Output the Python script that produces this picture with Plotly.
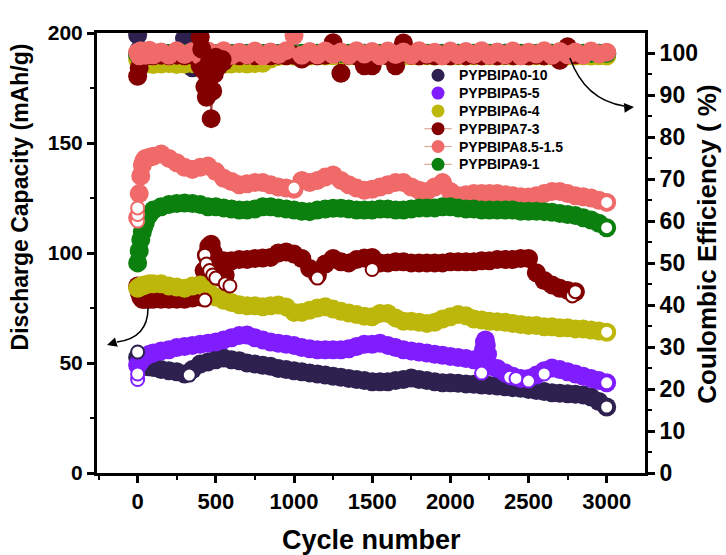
import plotly.graph_objects as go

# Cycle index shared by every series
CYCLES = [0, 10, 20, 30, 40, 50, 75, 100, 150, 200,
          250, 300, 350, 400, 450, 500, 550, 600, 650, 700,
          750, 800, 850, 900, 950, 1000, 1050, 1100, 1150, 1200,
          1250, 1300, 1350, 1400, 1450, 1500, 1550, 1600, 1650, 1700,
          1750, 1800, 1850, 1900, 1950, 2000, 2050, 2100, 2150, 2200,
          2250, 2300, 2350, 2400, 2450, 2500, 2550, 2600, 2650, 2700,
          2750, 2800, 2850, 2900, 2950, 3000]

NAMES = ["PYPBIPA0-10", "PYPBIPA5-5", "PYPBIPA6-4",
         "PYPBIPA7-3", "PYPBIPA8.5-1.5", "PYPBIPA9-1"]
COLORS = ["#2e2150", "#7f1dff", "#bdb70c", "#820000", "#ef6a69", "#0c800f"]

# Discharge capacity (mAh/g)
CAP_0_10 = [52.5, 51, 50, 49.5, 49, 48.5, 48.3, 48, 47, 46.5,
            46, 45, 47, 49.5, 50.5, 51.5, 52.3, 51.5, 51, 50,
            49.5, 49, 48.5, 47.5, 47, 46.5, 46, 45.5, 45, 44.5,
            44, 43.5, 43, 42.5, 42, 41.5, 41.5, 41.5, 42, 42.5,
            43.2, 42.5, 42, 41.5, 41, 41, 40.8, 40.5, 40.3, 40,
            39.8, 39.5, 39.2, 38.8, 38.5, 38, 37.5, 37, 36.5, 36.2,
            36, 35.8, 35.5, 34.5, 32.5, 30]
CAP_5_5 = [49, 50, 51, 52, 52.5, 53, 54, 54.5, 55.5, 56,
           57, 57.5, 58, 58.5, 59, 59.5, 60.5, 61.5, 62.5, 62.7,
           61.5, 60.5, 59.5, 59, 58.5, 58, 57, 56.5, 56, 56,
           56, 56, 56.5, 57.5, 58.5, 58.5, 59, 58, 57, 56,
           55.5, 55, 54.5, 54, 53.5, 53, 52.5, 52, 51.5, 51,
           48.5, 47.5, 45.5, 44, 43, 43, 44.5, 46.5, 47.7, 47,
           46, 45, 44, 43, 42, 41]
CAP_6_4 = [84, 84.5, 85, 85, 85.5, 85.5, 86, 86, 86, 85,
           84.5, 84, 85, 85.5, 83, 80, 78.5, 77.5, 76.5, 76,
           76, 75.6, 76, 76.4, 75.5, 73, 73, 74, 75, 75.6,
           74.5, 73.5, 72.7, 72, 71.2, 71, 72.5, 72.5, 70.5, 69,
           69, 68.5, 68, 68.5, 70, 71, 72, 71.5, 70, 69.5,
           69, 68.8, 68.5, 68, 67.5, 67, 67, 66.5, 66.5, 66,
           66, 65.5, 65.5, 65, 64.5, 64]
CAP_7_3 = [85, 82, 80, 79, 79, 79, 79, 79, 79, 79,
           79, 79, 79.5, 80, 100, 96, 96.5, 96.5, 97, 97,
           97.5, 97.7, 98, 100, 100.5, 99.5, 97.5, 93, 90, 95,
           97.5, 96, 95.5, 97, 97.7, 98, 95.5, 95.5, 96, 96,
           95.5, 95.5, 95.5, 95.5, 95.5, 96, 96, 96, 96, 96.5,
           96.5, 97, 97, 97, 97.5, 97.5, 91, 87.5, 85.5, 84,
           83, 82.4]
CAP_8_5 = [116, 127, 135, 140, 142, 143, 143.5, 144, 145, 143,
           141, 139, 138, 139, 139.5, 137, 134, 132.5, 131, 131.5,
           132, 132, 131, 130, 129.5, 129, 133, 132, 133, 134.5,
           135.5, 133, 131, 129.5, 128.5, 129, 130, 131, 132, 132,
           130, 128.5, 128, 130, 132, 128, 126, 126.5, 127, 127,
           127, 127, 126.5, 126, 125.6, 125.5, 126, 127, 128, 128,
           127, 126, 125.6, 125, 124, 123]
CAP_9_1 = [95.5, 101, 106, 109.5, 112, 114, 117.5, 119.5, 121, 122,
           122.5, 122.7, 122.5, 122, 121, 121, 120.5, 120, 119.5, 119.5,
           120, 121, 121, 120.5, 120, 119.5, 119, 118.8, 119.5, 120,
           120.3, 120.3, 120, 119.5, 119.5, 119.5, 120, 120, 119.5, 119.5,
           120, 120.5, 120.5, 120.5, 121, 121, 120.5, 120, 120, 119.5,
           119.5, 119.5, 119.5, 119.5, 119, 119, 119, 118.8, 118.5, 118,
           117.5, 117, 116, 115, 113.5, 111.5]

# Coulombic efficiency (%)
CE_0_10 = [104.3, 100.8, 99.8, 99.9, 99.8, 99.9, 99.8, 99.9, 99.8, 99.9,
           99.8, 103.5, 96.5, 99.8, 99.9, 99.8, 99.9, 99.8, 99.9, 99.8,
           99.9, 99.8, 99.9, 99.8, 99.9, 99.8, 99.9, 99.8, 99.9, 99.8,
           99.9, 99.8, 99.9, 99.8, 99.9, 99.8, 99.9, 99.8, 99.9, 99.8,
           99.9, 99.8, 99.9, 99.8, 99.9, 99.8, 99.9, 99.8, 99.9, 99.8,
           99.9, 99.8, 99.9, 99.8, 99.9, 99.8, 99.9, 99.8, 99.9, 99.8,
           99.9, 99.8, 99.9, 99.8, 99.9, 99.8]
CE_5_5 = [99.6, 99.8, 99.9, 99.9, 100.0, 99.9, 99.9, 100.0, 99.9, 99.9,
          100.0, 99.9, 99.9, 100.0, 99.9, 99.9, 100.0, 99.9, 99.9, 100.0,
          99.9, 99.9, 100.0, 99.9, 99.9, 100.0, 99.9, 99.9, 100.0, 99.9,
          99.9, 100.0, 99.9, 99.9, 100.0, 99.9, 99.9, 100.0, 99.9, 99.9,
          100.0, 99.9, 99.9, 100.0, 99.9, 99.9, 100.0, 99.9, 99.9, 100.0,
          99.9, 99.9, 100.0, 99.9, 99.9, 100.0, 99.9, 99.9, 100.0, 99.9,
          99.9, 100.0, 99.9, 99.9, 100.0, 99.9]
CE_6_4 = [98.5, 97.6, 97.4, 97.5, 97.3, 97.4, 97.5, 97.3, 97.4, 97.5,
          97.3, 97.4, 97.5, 97.3, 97.4, 97.5, 97.3, 97.4, 97.5, 97.4,
          97.5, 97.6, 98.6, 99.2, 99.4, 99.3, 99.4, 99.3, 99.4, 99.3,
          99.4, 99.3, 99.4, 99.3, 99.4, 99.3, 99.4, 99.3, 99.4, 99.3,
          99.4, 99.3, 99.4, 99.3, 99.4, 99.3, 99.4, 99.3, 99.4, 99.3,
          99.4, 99.3, 99.4, 99.3, 99.4, 99.3, 99.4, 99.3, 99.4, 99.3,
          99.4, 99.3, 99.4, 99.3, 99.4, 99.3]
CE_7_3 = [94.5, 96.5, 98.5, 99.4, 99.5, 99.4, 99.5, 99.4, 99.5, 99.4,
          99.5, 99.4, 99.5, 97.0, 91.0, 96.5, 98.0, 99.5, 99.4, 99.5,
          99.4, 99.5, 99.4, 99.5, 99.4, 99.5, 98.6, 99.5, 99.4, 99.5,
          102.5, 95.2, 99.5, 99.4, 97.0, 97.0, 99.5, 99.4, 97.0, 102.4,
          99.5, 99.4, 99.5, 99.4, 99.5, 99.4, 99.5, 99.4, 99.5, 99.4,
          99.5, 99.4, 99.5, 99.4, 99.5, 99.4, 99.5, 99.4, 99.5, 98.3,
          101.5, 99.6]
CE_8_5 = [100.2, 99.4, 100.6, 99.8, 100.4, 99.5, 100.7, 99.6, 100.3, 99.5,
          100.6, 99.7, 100.4, 99.4, 100.5, 99.8, 100.6, 99.5, 100.2, 99.6,
          100.5, 99.4, 100.3, 99.7, 100.6, 104.2, 99.5, 100.4, 99.6, 100.5,
          99.7, 100.3, 99.5, 100.6, 99.8, 100.4, 99.4, 100.5, 99.7, 100.3,
          99.5, 100.6, 99.8, 100.2, 99.4, 100.5, 99.6, 100.4, 99.7, 100.6,
          99.5, 100.3, 99.6, 100.5, 99.4, 100.2, 99.8, 100.6, 99.5, 100.4,
          99.6, 100.3, 99.5, 100.5, 99.8, 100.2]
CE_9_1 = [99.7, 99.9, 100.0, 99.9, 100.0, 99.9, 100.0, 99.9, 100.0, 99.9,
          100.0, 99.9, 100.0, 99.9, 100.0, 99.9, 100.0, 99.9, 100.0, 99.9,
          100.0, 99.9, 100.0, 99.9, 100.0, 99.9, 100.0, 99.9, 100.0, 99.9,
          100.0, 99.9, 100.0, 99.9, 100.0, 99.9, 100.0, 99.9, 100.0, 99.9,
          100.0, 99.9, 100.0, 99.9, 100.0, 99.9, 100.0, 99.9, 100.0, 99.9,
          100.0, 99.9, 100.0, 99.9, 100.0, 99.9, 100.0, 99.9, 100.0, 99.9,
          100.0, 99.9, 100.0, 99.9, 100.0, 99.9]

# Scattered PYPBIPA7-3 readings around the 400-600 cycle restart
SCAT_7_3_CYC = [410, 425, 440, 455, 470, 485, 500, 515, 530, 545, 560, 580]
SCAT_7_3_CAP = [86, 92, 99, 103, 104, 100, 96, 92, 89, 94, 90, 96]
SCAT_7_3_CE_CYC = [400, 410, 420, 430, 440, 450, 460, 470, 480, 490, 500, 520, 540]
SCAT_7_3_CE = [103.8, 101, 96, 92, 89.5, 94, 98, 84.4, 91, 95, 99, 97, 98.5]

# PYPBIPA5-5 excursion near cycle 2200
SCAT_5_5_CYC = [2205, 2212, 2218, 2224, 2230, 2238]
SCAT_5_5_CAP = [52, 56, 59.5, 60.5, 58, 54]

# Open-symbol points (first / last / irregular cycles)
OPEN_CYC = [
    [0, 330, 3000],
    [0, 0, 2200, 2380, 2420, 2500, 2600, 3000],
    [3000],
    [430, 440, 460, 480, 500, 560, 590, 430, 1150, 1500, 2780, 2800],
    [0, 0, 0, 1000, 3000],
    [3000],
]
OPEN_CAP = [
    [55, 44.5, 30],
    [42.5, 45, 45.4, 43.5, 43, 41.8, 45, 41],
    [64],
    [99, 95, 92, 90, 88.6, 86, 85, 78.6, 88.6, 92.5, 80.5, 82.4],
    [114.5, 117.5, 120.5, 129.5, 123],
    [111.5],
]

CAPS = [CAP_0_10, CAP_5_5, CAP_6_4, CAP_7_3, CAP_8_5, CAP_9_1]
CES = [CE_0_10, CE_5_5, CE_6_4, CE_7_3, CE_8_5, CE_9_1]

FONT = "Arial, Liberation Sans, sans-serif"
SIZE = 19

fig = go.Figure()


def band(x, y, color, axis, size=SIZE):
    return go.Scatter(x=x, y=y, yaxis=axis, mode="lines+markers",
                      marker=dict(size=size, color=color, line=dict(width=0)),
                      line=dict(color=color, width=1),
                      showlegend=False, hoverinfo="skip")


# Capacity bands (left axis); drawing order keeps 6-4 over 7-3
for i in [0, 1, 3, 2, 4, 5]:
    fig.add_trace(band(CYCLES[:len(CAPS[i])], CAPS[i], COLORS[i], "y"))
    if i == 3:
        fig.add_trace(band(SCAT_7_3_CYC, SCAT_7_3_CAP, COLORS[3], "y"))
    if i == 1:
        fig.add_trace(band(SCAT_5_5_CYC, SCAT_5_5_CAP, COLORS[1], "y"))

# Open symbols
for i in range(6):
    fig.add_trace(go.Scatter(
        x=OPEN_CYC[i], y=OPEN_CAP[i], yaxis="y", mode="markers",
        marker=dict(size=13, color="white", line=dict(color=COLORS[i], width=2)),
        showlegend=False, hoverinfo="skip"))

# Coulombic efficiency (right axis)
for i in [0, 1, 2, 5, 3, 4]:
    fig.add_trace(band(CYCLES[:len(CES[i])], CES[i], COLORS[i], "y2"))
fig.add_trace(band(SCAT_7_3_CE_CYC, SCAT_7_3_CE, COLORS[3], "y2"))

# Legend block (drawn on a hidden unit overlay so rows sit tightly)
LEG_SYM_X = 0.6223
LEG_TXT_X = 0.6569
LEG_TOP_Y = 0.904
LEG_STEP = 0.0405
LEG_LINE = "#d9a79c"
LEG_LINE_HALF = 0.025
for i, name in enumerate(NAMES):
    yy = LEG_TOP_Y - i * LEG_STEP
    if i >= 3:
        fig.add_shape(type="line", xref="paper", yref="paper", layer="below",
                      x0=LEG_SYM_X - LEG_LINE_HALF, x1=LEG_SYM_X + LEG_LINE_HALF,
                      y0=yy, y1=yy, line=dict(color=LEG_LINE, width=1.2))
    fig.add_trace(go.Scatter(
        x=[LEG_SYM_X], y=[yy], xaxis="x2", yaxis="y3", mode="markers",
        marker=dict(size=13, color=COLORS[i]), showlegend=False,
        hoverinfo="skip"))
    fig.add_annotation(text=name, xref="paper", yref="paper", x=LEG_TXT_X, y=yy,
                       xanchor="left", yanchor="middle", showarrow=False,
                       font=dict(family=FONT, size=14, color="black", weight="bold"))


def axis_style(size):
    return dict(
        showgrid=False, zeroline=False, showline=True, linecolor="black",
        linewidth=3, ticks="outside", ticklen=7, tickwidth=3, tickcolor="black",
        tickfont=dict(family=FONT, size=size, color="black", weight="bold"),
    )


def minor(step):
    return dict(dtick=step, ticks="outside", ticklen=4, tickwidth=2,
                tickcolor="black")


fig.update_layout(
    width=726, height=555,
    margin=dict(l=97, r=81, t=33, b=82),
    paper_bgcolor="white", plot_bgcolor="white",
    hovermode=False,
    showlegend=False,
    xaxis=dict(range=[-260, 3245], tick0=0, dtick=500, mirror=True,
               minor=minor(250), **axis_style(22)),
    yaxis=dict(range=[0, 200], tick0=0, dtick=50,
               minor=minor(25), **axis_style(21)),
    yaxis2=dict(range=[0, 104.8], tick0=0, dtick=10, overlaying="y", side="right",
                minor=minor(5), **axis_style(23)),
    xaxis2=dict(range=[0, 1], overlaying="x", visible=False),
    yaxis3=dict(range=[0, 1], overlaying="y", visible=False),
    font=dict(family=FONT, color="black"),
)

fig.add_annotation(text="Discharge Capacity (mAh/g)", xref="paper", yref="paper",
                   x=-0.14, y=0.627, textangle=-90, showarrow=False,
                   xanchor="center", yanchor="middle",
                   font=dict(family=FONT, size=23, color="black", weight="bold"))
fig.add_annotation(text="Coulombic Efficiency ( %)", xref="paper", yref="paper",
                   x=1.114, y=0.52, textangle=-90, showarrow=False,
                   xanchor="center", yanchor="middle",
                   font=dict(family=FONT, size=26, color="black", weight="bold"))
fig.add_annotation(text="Cycle number", xref="paper", yref="paper",
                   x=0.5, y=-0.152, showarrow=False,
                   xanchor="center", yanchor="middle",
                   font=dict(family=FONT, size=27, color="black", weight="bold"))

# Curved pointers linking each data family to its axis
fig.add_shape(type="path", xref="paper", yref="paper",
              path="M 0.863 0.943 Q 0.8905 0.8477 0.9617 0.8341",
              line=dict(color="black", width=1.5))
fig.add_annotation(x=0.9799, y=0.8318, xref="paper", yref="paper", text="",
                   showarrow=True, ax=-11, ay=1, arrowhead=2, arrowsize=1.3,
                   arrowwidth=1.5, arrowcolor="black")
fig.add_shape(type="path", xref="paper", yref="paper",
              path="M 0.0931 0.375 Q 0.0931 0.3068 0.0365 0.2977",
              line=dict(color="black", width=1.5))
fig.add_annotation(x=0.01825, y=0.2909, xref="paper", yref="paper", text="",
                   showarrow=True, ax=10, ay=-3, arrowhead=2, arrowsize=1.3,
                   arrowwidth=1.5, arrowcolor="black")

fig.write_html("out.html")
